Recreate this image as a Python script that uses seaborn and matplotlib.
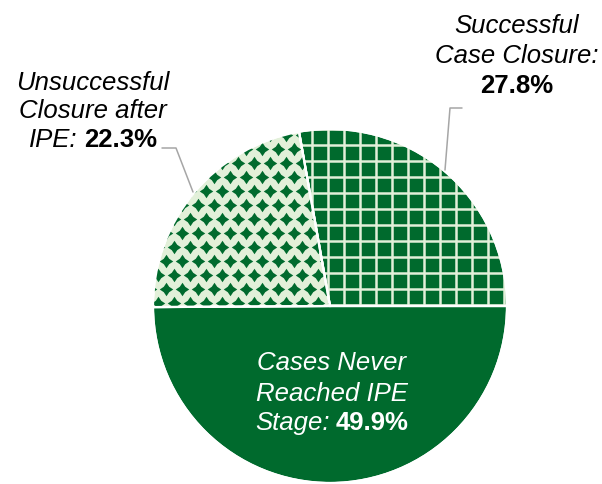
import numpy as np
import matplotlib
matplotlib.use("Agg")
import matplotlib.pyplot as plt
import seaborn as sns
from matplotlib.path import Path
from matplotlib.patches import Wedge
from matplotlib.lines import Line2D

# Outcome categories and their share of cases (percent)
categories = ["Successful Case Closure", "Unsuccessful Closure after IPE",
              "Cases Never Reached IPE Stage"]
shares = [27.8, 22.3, 49.9]

# Label text, split into lines; the last line carries the bold value
label_lines = [
    ["Successful", "Case Closure:"],
    ["Unsuccessful", "Closure after", "IPE:"],
    ["Cases Never", "Reached IPE", "Stage:"],
]
value_on_own_line = [True, False, False]

DARK = "#006A2D"
LIGHT = "#E2F0D9"
LEADER = "#A6A6A6"

sns.set_theme(style="white")
plt.rcParams["font.family"] = ["Liberation Sans", "DejaVu Sans"]

W, H = 602, 484
fig = plt.figure(figsize=(W / 100, H / 100), dpi=100)
fig.patch.set_facecolor("white")


def fx(x):
    return x / W


def fy(y):
    return 1 - y / H


# Pie placement in pixels
CX, CY, R = 330, 306, 177
ax = fig.add_axes([fx(CX - R), fy(CY + R), 2 * R / W, 2 * R / H])
wedges, _ = ax.pie(
    shares,
    colors=[DARK, LIGHT, DARK],
    startangle=0,
    counterclock=True,
    radius=1,
    wedgeprops=dict(edgecolor="white", linewidth=1.5),
)
ax.set_xlim(-1, 1)
ax.set_ylim(-1, 1)
ax.set_aspect("equal")
ax.set_axis_off()

# Grid pattern inside the first wedge
for k in range(-3, 13):
    xv = (14 + 16 * k) / R
    ln, = ax.plot([xv, xv], [-0.2, 1.1], color=LIGHT, lw=1.8,
                  solid_capstyle="butt", zorder=3)
    ln.set_clip_path(wedges[0])
for k in range(-2, 13):
    yh = (1 + 16 * k) / R
    ln, = ax.plot([-0.4, 1.1], [yh, yh], color=LIGHT, lw=1.8,
                  solid_capstyle="butt", zorder=3)
    ln.set_clip_path(wedges[0])

# Star pattern inside the second wedge
a = 0.40
star = Path([(0, 1), (a, a), (1, 0), (a, -a), (0, -1), (-a, -a), (-1, 0),
             (-a, a), (0, 1)], closed=True)
px, py = [], []
for j in range(-1, 14):
    off = 8 if j % 2 else 0
    for i in range(-12, 3):
        px.append((i * 16 + off + 4) / R)
        py.append((3 + 14 * j) / R)
sc = ax.scatter(px, py, s=(13.5 * 0.72) ** 2, marker=star, color=DARK,
                linewidths=0, zorder=3)
sc.set_clip_path(wedges[1])

# Redraw white separators on top of the patterns
for w in wedges:
    ax.add_patch(Wedge(w.center, w.r, w.theta1, w.theta2, fill=False,
                       ec="white", lw=1.6, zorder=5))

FS = 18.5
renderer = fig.canvas.get_renderer()


def put_line(xc, base, parts, color):
    objs = []
    for txt, st in parts:
        t = fig.text(0, fy(base), txt, fontsize=FS, color=color,
                     style="italic" if st == "i" else "normal",
                     weight="bold" if st == "b" else "normal",
                     va="baseline", ha="left")
        objs.append(t)
    widths = [t.get_window_extent(renderer).width for t in objs]
    gap = 0.25 * FS * 100 / 72
    total = sum(widths) + gap * (len(objs) - 1)
    x0 = xc - total / 2
    for t, wd in zip(objs, widths):
        t.set_x(fx(x0))
        x0 += wd + gap


def put_label(idx, xc, baselines, color):
    lines = label_lines[idx]
    value = f"{shares[idx]:.1f}%"
    rows = [[(ln, "i")] for ln in lines]
    if value_on_own_line[idx]:
        rows.append([(value, "b")])
    else:
        rows[-1].append((value, "b"))
    for row, b in zip(rows, baselines):
        put_line(xc, b, row, color)


put_label(0, 517, [33, 63, 93], "black")
put_label(1, 93, [90, 118, 147], "black")
put_label(2, 332, [370, 401, 430], "white")

# Leader lines
fig.add_artist(Line2D([fx(162), fx(176), fx(193)], [fy(148), fy(148), fy(192)],
                      color=LEADER, lw=1.1))
fig.add_artist(Line2D([fx(462), fx(450), fx(445)], [fy(108), fy(108), fy(170)],
                      color=LEADER, lw=1.1))

fig.savefig("out.png", dpi=100, facecolor="white")
